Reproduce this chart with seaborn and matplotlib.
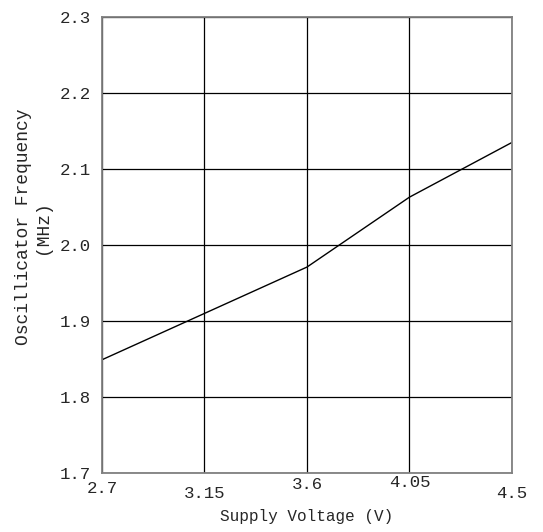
import numpy as np
import pandas as pd
import matplotlib
matplotlib.use('Agg')
import matplotlib.pyplot as plt
import seaborn as sns

# data
supply_voltage = [2.7, 3.15, 3.6, 4.05, 4.5]
osc_frequency = [1.849, 1.910, 1.971, 2.063, 2.135]
x_ticks = [2.7, 3.15, 3.6, 4.05, 4.5]
x_tick_labels = ['2.7', '3.15', '3.6', '4.05', '4.5']
y_ticks = [1.7, 1.8, 1.9, 2.0, 2.1, 2.2, 2.3]
y_tick_labels = ['1.7', '1.8', '1.9', '2.0', '2.1', '2.2', '2.3']

df = pd.DataFrame({'voltage': supply_voltage, 'freq': osc_frequency})

sns.set_style('white')
plt.rcParams['font.family'] = ['Liberation Mono', 'DejaVu Sans']

fig = plt.figure(figsize=(5.43, 5.32), dpi=100)
ax = fig.add_axes([0.1878, 0.1109, 0.7551, 0.8571])

sns.lineplot(x='voltage', y='freq', data=df, color='black', linewidth=1.0, ax=ax)

ax.set_xlim(2.7, 4.5)
ax.set_ylim(1.7, 2.3)
ax.set_xticks(x_ticks)
ax.set_xticklabels(x_tick_labels, fontsize=12.5)
ax.set_yticks(y_ticks)
ax.set_yticklabels(y_tick_labels, fontsize=12.5)
ax.grid(True, color='black', linewidth=0.9)
ax.set_axisbelow(True)
for s in ax.spines.values():
    s.set_color('#808080')
    s.set_linewidth(1.3)

ax.tick_params(axis='both', length=0)
ax.tick_params(axis='y', pad=8)
# staggered x tick labels like the original
pads = [6.0, 9.5, 3.2, 1.2, 9.5]
for tick, p in zip(ax.xaxis.get_major_ticks(), pads):
    tick.set_pad(p)

ax.set_xlabel('Supply Voltage (V)', fontsize=11.5)
ax.xaxis.set_label_coords(0.5, -0.08)
ax.set_ylabel('Oscillicator Frequency\n(MHz)', fontsize=13, linespacing=1.15)
ax.yaxis.set_label_coords(-0.125, 0.54)

plt.savefig('out.png', dpi=100)
